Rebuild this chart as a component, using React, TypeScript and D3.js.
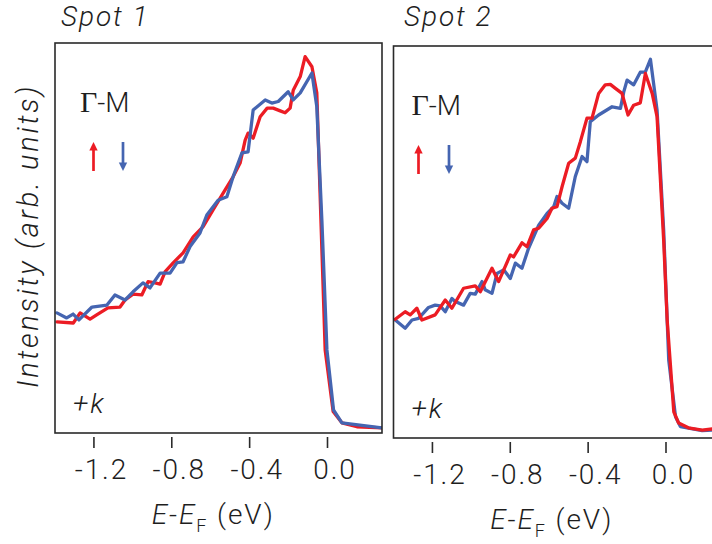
import React from "react";
import * as d3 from "d3";

// ---- Data ----
const panelTitles = ["Spot 1", "Spot 2"];
const tickValues = [-1.2, -0.8, -0.4, 0.0];
const tickLabels = ["-1.2", "-0.8", "-0.4", "0.0"];
const energyDomain = [-1.4, 0.28];

const spot1UpE = [-1.39,-1.306,-1.271,-1.22,-1.186,-1.128,-1.066,-1.04,-0.999,-0.954,-0.922,-0.886,-0.86,-0.834,-0.793,-0.742,-0.69,-0.639,-0.588,-0.536,-0.485,-0.449,-0.423,-0.408,-0.382,-0.346,-0.31,-0.279,-0.243,-0.218,-0.192,-0.176,-0.14,-0.115,-0.08,-0.055,-0.012,0.029,0.074,0.151,0.28];
const spot1UpI = [0.285,0.282,0.308,0.292,0.303,0.321,0.323,0.341,0.356,0.354,0.388,0.385,0.382,0.414,0.436,0.462,0.503,0.529,0.572,0.615,0.657,0.692,0.751,0.769,0.756,0.811,0.833,0.833,0.826,0.821,0.833,0.879,0.914,0.965,0.939,0.872,0.213,0.055,0.026,0.016,0.013];

const spot1DownE = [-1.39,-1.34,-1.307,-1.277,-1.21,-1.133,-1.092,-1.04,-0.999,-0.948,-0.912,-0.86,-0.809,-0.773,-0.742,-0.706,-0.655,-0.62,-0.562,-0.517,-0.485,-0.44,-0.408,-0.382,-0.32,-0.286,-0.253,-0.202,-0.176,-0.14,-0.08,-0.055,-0.029,-0.003,0.031,0.074,0.28];
const spot1DownI = [0.308,0.295,0.305,0.29,0.323,0.328,0.354,0.341,0.362,0.385,0.372,0.41,0.41,0.437,0.439,0.478,0.513,0.559,0.597,0.606,0.657,0.718,0.721,0.828,0.854,0.846,0.85,0.875,0.854,0.872,0.923,0.837,0.546,0.213,0.059,0.026,0.013];

const spot2UpE = [-1.391,-1.34,-1.314,-1.28,-1.254,-1.186,-1.134,-1.1,-1.04,-0.98,-0.954,-0.894,-0.86,-0.8,-0.783,-0.74,-0.714,-0.68,-0.654,-0.611,-0.586,-0.56,-0.534,-0.5,-0.466,-0.44,-0.406,-0.38,-0.346,-0.312,-0.286,-0.26,-0.226,-0.195,-0.166,-0.132,-0.106,-0.071,-0.046,-0.012,0.006,0.04,0.065,0.115,0.186,0.237,0.28];
const spot2UpI = [0.303,0.322,0.314,0.331,0.301,0.314,0.352,0.331,0.382,0.388,0.373,0.433,0.399,0.467,0.462,0.498,0.488,0.531,0.535,0.56,0.586,0.59,0.641,0.701,0.714,0.756,0.816,0.816,0.879,0.901,0.902,0.892,0.879,0.824,0.849,0.855,0.93,0.879,0.82,0.505,0.301,0.067,0.038,0.026,0.02,0.023,0.02];

const spot2DownE = [-1.391,-1.34,-1.305,-1.271,-1.22,-1.186,-1.16,-1.134,-1.1,-1.083,-1.04,-1.006,-0.98,-0.945,-0.929,-0.894,-0.868,-0.834,-0.8,-0.774,-0.74,-0.706,-0.654,-0.611,-0.577,-0.56,-0.534,-0.5,-0.466,-0.431,-0.406,-0.389,-0.346,-0.277,-0.234,-0.217,-0.2,-0.166,-0.132,-0.106,-0.08,-0.046,-0.012,0.014,0.049,0.074,0.186,0.237,0.28];
const spot2DownI = [0.301,0.28,0.301,0.305,0.333,0.339,0.337,0.322,0.356,0.348,0.339,0.369,0.367,0.399,0.378,0.369,0.42,0.429,0.407,0.446,0.433,0.484,0.543,0.573,0.59,0.616,0.599,0.586,0.667,0.718,0.705,0.807,0.824,0.845,0.841,0.883,0.913,0.901,0.933,0.934,0.966,0.837,0.531,0.199,0.054,0.029,0.019,0.02,0.02];

const RED = "#ec1c24";
const BLUE = "#4565b1";
const INK = "#1e1e1e";
const FONT = "Roboto, 'Liberation Sans', Helvetica, Arial, sans-serif";
const FS = 28;
const TRACK = 1.9;

type Series = { e: number[]; i: number[]; color: string };

const panels = [
  {
    title: panelTitles[0],
    left: 55, right: 382, top: 43, bottom: 433,
    titleX: 61, legendDx: 25, arrowX: [93.5, 123],
    series: [
      { e: spot1UpE, i: spot1UpI, color: RED },
      { e: spot1DownE, i: spot1DownI, color: BLUE },
    ] as Series[],
  },
  {
    title: panelTitles[1],
    left: 393.5, right: 720.5, top: 46, bottom: 438,
    titleX: 404, legendDx: 18, arrowX: [418.5, 449],
    series: [
      { e: spot2DownE, i: spot2DownI, color: BLUE },
      { e: spot2UpE, i: spot2UpI, color: RED },
    ] as Series[],
  },
];

function Arrow({ xPos, yTop, yBot, up, color }: { xPos: number; yTop: number; yBot: number; up: boolean; color: string }) {
  const head = 8.5;
  const hw = 4.2;
  if (up) {
    return (
      <g>
        <line x1={xPos} x2={xPos} y1={yBot} y2={yTop + head - 1} stroke={color} strokeWidth={2.7} />
        <path d={`M${xPos},${yTop} L${xPos - hw},${yTop + head} L${xPos + hw},${yTop + head} Z`} fill={color} />
      </g>
    );
  }
  return (
    <g>
      <line x1={xPos} x2={xPos} y1={yTop} y2={yBot - head + 1} stroke={color} strokeWidth={2.7} />
      <path d={`M${xPos},${yBot} L${xPos - hw},${yBot - head} L${xPos + hw},${yBot - head} Z`} fill={color} />
    </g>
  );
}

function Panel({ p, idx }: { p: typeof panels[number]; idx: number }) {
  const x = d3.scaleLinear().domain(energyDomain).range([p.left, p.right]);
  const y = d3.scaleLinear().domain([0, 1]).range([p.bottom, p.top]);
  const line = d3
    .line<[number, number]>()
    .x((d) => x(d[0]))
    .y((d) => y(d[1]));
  const clipId = `clip${idx}`;
  const titleCx = (x(tickValues[0]) + x(tickValues[tickValues.length - 1])) / 2 + 2.5;
  return (
    <g>
      <defs>
        <clipPath id={clipId}>
          <rect x={p.left} y={p.top} width={p.right - p.left} height={p.bottom - p.top} />
        </clipPath>
      </defs>
      <text x={p.titleX} y={26} fontFamily={FONT} fontStyle="italic" fontWeight={300} fontSize={FS} letterSpacing={TRACK} fill={INK}>
        {p.title}
      </text>
      <g clipPath={`url(#${clipId})`}>
        {p.series.map((s, k) => (
          <path
            key={k}
            d={line(s.e.map((e, j) => [e, s.i[j]] as [number, number])) || ""}
            fill="none"
            stroke={s.color}
            strokeWidth={3.3}
            strokeLinejoin="round"
            strokeLinecap="round"
          />
        ))}
      </g>
      <rect
        x={p.left}
        y={p.top}
        width={p.right - p.left}
        height={p.bottom - p.top}
        fill="none"
        stroke="#2a2a2a"
        strokeWidth={1.6}
      />
      {tickValues.map((t, k) => (
        <g key={k}>
          <line x1={x(t)} x2={x(t)} y1={p.bottom + 4} y2={p.bottom + 15} stroke="#2a2a2a" strokeWidth={1.6} />
          <text
            x={x(t) + 7.5}
            y={p.bottom + 46}
            textAnchor="middle"
            fontFamily={FONT}
            fontWeight={300}
            fontSize={FS}
            letterSpacing={TRACK}
            fill={INK}
          >
            {tickLabels[k]}
          </text>
        </g>
      ))}
      <text
        x={titleCx}
        y={p.bottom + 91}
        textAnchor="middle"
        fontFamily={FONT}
        fontWeight={300}
        fontSize={FS}
        letterSpacing={TRACK}
        fill={INK}
      >
        <tspan fontStyle="italic">E</tspan>
        <tspan>-</tspan>
        <tspan fontStyle="italic">E</tspan>
        <tspan fontSize={18} dy={8}>F</tspan>
        <tspan dy={-8}> (eV)</tspan>
      </text>
      {/* Legend */}
      <text x={p.left + p.legendDx} y={p.top + 69} fontSize={30} fill={INK}>
        <tspan fontFamily="'Liberation Serif', 'Times New Roman', serif">Γ</tspan>
        <tspan fontFamily={FONT} fontWeight={300} fontSize={28}>-M</tspan>
      </text>
      <Arrow xPos={p.arrowX[0]} yTop={p.top + 99} yBot={p.top + 128} up color={RED} />
      <Arrow xPos={p.arrowX[1]} yTop={p.top + 99} yBot={p.top + 128} up={false} color={BLUE} />
      <text x={p.left + 18} y={p.bottom - 20} fontFamily={FONT} fontStyle="italic" fontWeight={300} fontSize={FS} letterSpacing={TRACK} fill={INK}>
        +k
      </text>
    </g>
  );
}

export default function App() {
  return (
    <svg
      width={712}
      height={544}
      style={{ position: "absolute", left: 0, top: 0, background: "#fff" }}
    >
      <rect x={0} y={0} width={712} height={544} fill="#fff" />
      {panels.map((p, k) => (
        <Panel key={k} p={p} idx={k} />
      ))}
      <text
        transform="translate(38,236) rotate(-90)"
        textAnchor="middle"
        fontFamily={FONT}
        fontStyle="italic"
        fontWeight={300}
        fontSize={29}
        letterSpacing={2.7}
        fill={INK}
      >
        Intensity (arb. units)
      </text>
    </svg>
  );
}
